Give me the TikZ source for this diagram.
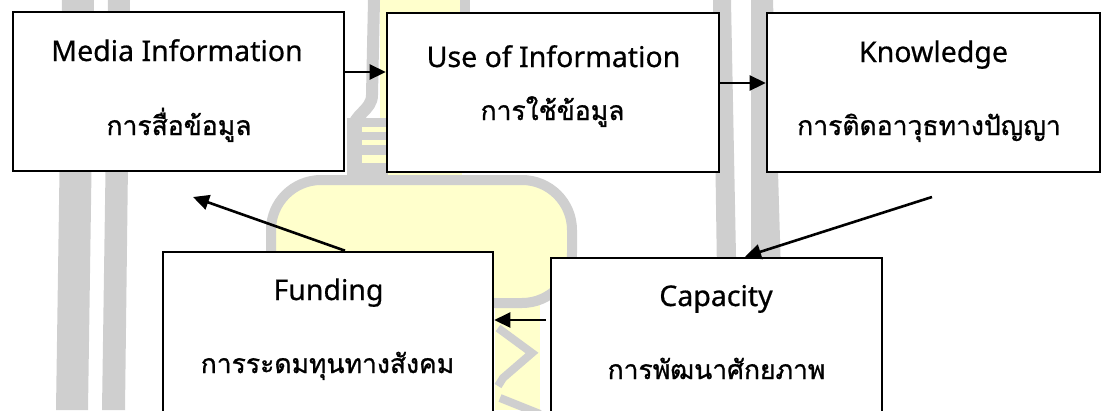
\documentclass[tikz,border=0pt]{standalone}
\usepackage{fontspec}
\setmainfont{Noto Sans}[FakeBold=0.6]
\newfontfamily\thaifont[Script=Thai,FakeBold=1]{Loma}
\usetikzlibrary{arrows.meta}
\definecolor{wmgray}{HTML}{CFCFCF}
\definecolor{wmyellow}{HTML}{FFFFCC}
\begin{document}
\begin{tikzpicture}[x=1pt,y=-1pt,
  box/.style={draw=black, line width=2.6pt, fill=white, inner sep=0pt},
  en/.style={font=\fontsize{28.5}{33}\selectfont, anchor=base, inner sep=0pt},
  th/.style={font=\thaifont\fontsize{26.5}{32}\selectfont, anchor=base, inner sep=0pt},
  arr/.style={line width=2.6pt, -{Triangle[length=16pt,width=15pt]}},
  wm/.style={wmgray}]
\clip (0,0) rectangle (1104,410);
% watermark
\fill[wm] (62,0) -- (94,0) -- (88,410) -- (56,410) -- cycle;
\fill[wm] (108,0) -- (130,0) -- (125,410) -- (102,410) -- cycle;
\fill[wm] (713,0) -- (731,0) -- (739,410) -- (719,410) -- cycle;
\fill[wm] (751,0) -- (773,0) -- (785,410) -- (751,410) -- cycle;
\fill[wmyellow] (380,0) rectangle (462,180);
\fill[wm] (460,0) rectangle (470,14);
\draw[wm, line width=12pt] (374,0) -- (372,95) to[out=-90,in=90] (353,130) -- (353,180);
\fill[wm] (347,118) rectangle (388,178);
\fill[wmyellow] (362,127) rectangle (388,132);
\fill[wmyellow] (362,140) rectangle (388,145);
\fill[wmyellow] (362,155) rectangle (388,163);
\fill[wmyellow] (495,300) -- (540,300) -- (540,410) -- (495,410) -- cycle;
\draw[wm, line width=10pt, fill=wmyellow, rounded corners=50pt] (271,180) rectangle (572,303);
\draw[wm, line width=8pt, line join=miter] (498,328) -- (532,353) -- (503,378) -- (498,386);
\draw[wm, line width=8pt] (500,398) -- (540,414);
% boxes
\node[box, minimum width=331pt, minimum height=159pt] (media) at (178.5,91.5) {};
\node[box, minimum width=332pt, minimum height=159pt] (use) at (553,92.5) {};
\node[box, minimum width=333pt, minimum height=159pt] (know) at (933.5,92.5) {};
\node[box, minimum width=330pt, minimum height=178pt] (fund) at (328,341) {};
\node[box, minimum width=331pt, minimum height=172pt] (cap) at (716.5,344) {};
% texts
\node[en] (mediaen) at (177,61) {Media Information};
\node[th] (mediath) at (179,135) {การสื่อข้อมูล};
\node[en] (useen) at (553.5,67) {Use of Information};
\node[th] (useth) at (552.5,120) {การใช้ข้อมูล};
\node[en] (knowen) at (933.5,62) {Knowledge};
\node[th] (knowth) at (929,135) {การติดอาวุธทางปัญญา};
\node[en] (funden) at (328.5,300) {Funding};
\node[th] (fundth) at (327.5,373) {การระดมทุนทางสังคม};
\node[en] (capen) at (716,306) {Capacity};
\node[th] (capth) at (716.5,379) {การพัฒนาศักยภาพ};
% connectors
\coordinate (kstart) at (932,197);
\coordinate (mtip) at (193,197);
\draw[arr] ([yshift=19.5pt]media.east) -- ([yshift=19.5pt]media.east -| use.west);
\draw[arr] ([yshift=9.5pt]use.east) -- ([yshift=9.5pt]use.east -| know.west);
\draw[arr] (kstart) -- ([xshift=28.5pt]cap.north);
\draw[arr] ([yshift=24pt,xshift=-4pt]cap.west) -- ([yshift=24pt]cap.west -| fund.east);
\draw[arr] ([xshift=17pt]fund.north) -- (mtip);
\end{tikzpicture}
\end{document}
